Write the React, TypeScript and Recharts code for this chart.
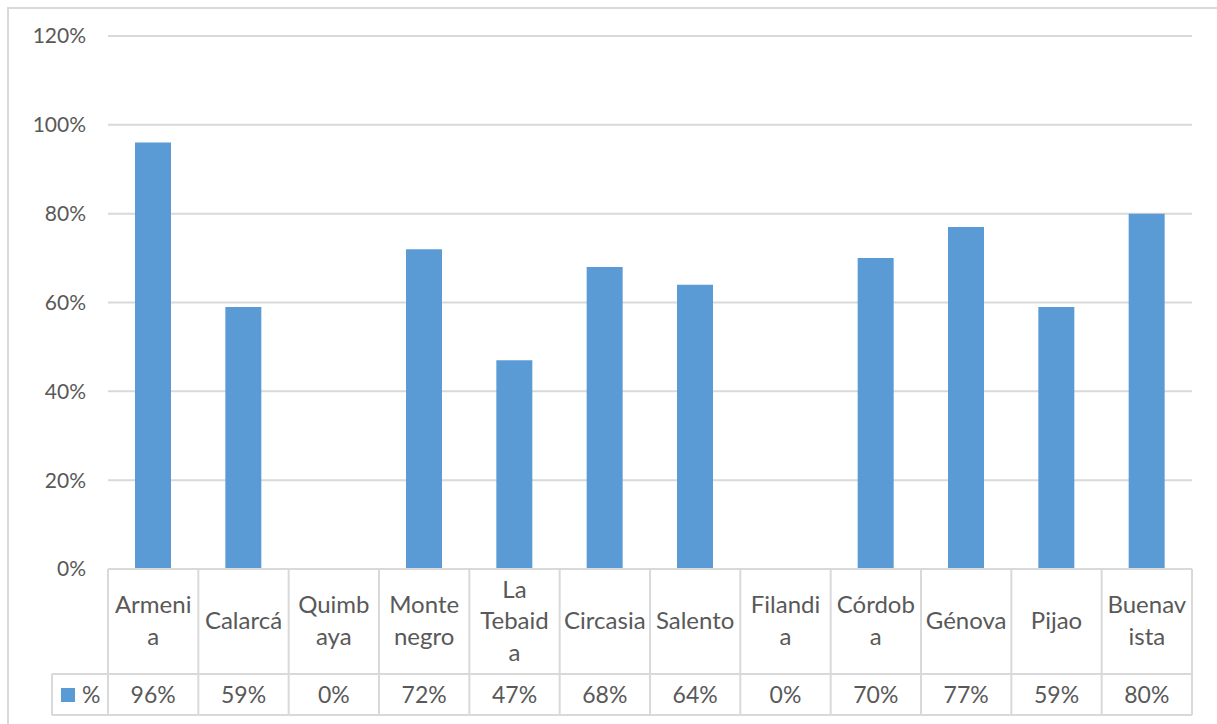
import React from 'react';
import { BarChart, Bar, XAxis, YAxis, CartesianGrid } from 'recharts';

const categories = ['Armenia', 'Calarcá', 'Quimbaya', 'Montenegro', 'La Tebaida', 'Circasia', 'Salento', 'Filandia', 'Córdoba', 'Génova', 'Pijao', 'Buenavista'];
const labelLines = [['Armeni', 'a'], ['Calarcá'], ['Quimb', 'aya'], ['Monte', 'negro'], ['La', 'Tebaid', 'a'], ['Circasia'], ['Salento'], ['Filandi', 'a'], ['Córdob', 'a'], ['Génova'], ['Pijao'], ['Buenav', 'ista']];
const percents = [96, 59, 0, 72, 47, 68, 64, 0, 70, 77, 59, 80];
const yTicks = [0, 20, 40, 60, 80, 100, 120];
const seriesName = '%';

const data = categories.map((c, i) => ({ name: c, value: percents[i] }));

const W = 1217;
const H = 724;
const LEFT = 108;
const RIGHT = 25;
const PLOT_W = W - LEFT - RIGHT;
const BAND = PLOT_W / categories.length;
const GRID = '#d9d9d9';
const TEXT = '#595959';
const BLUE = '#5b9bd5';
const FONT = 'Lato, "Open Sans", sans-serif';

const TableTick = (props: any) => {
  const { x, y, payload } = props;
  const i = payload.index;
  const left = x - BAND / 2;
  const right = x + BAND / 2;
  const mid = y + 105;
  const bottom = y + 146;
  const lines = labelLines[i];
  return (
    <g>
      {i === 0 && <line x1={left} y1={y} x2={left} y2={bottom} stroke={GRID} strokeWidth={2} />}
      <line x1={right} y1={y} x2={right} y2={bottom} stroke={GRID} strokeWidth={2} />
      <line x1={left} y1={mid} x2={right} y2={mid} stroke={GRID} strokeWidth={2} />
      <line x1={left} y1={bottom} x2={right} y2={bottom} stroke={GRID} strokeWidth={2} />
      {lines.map((t, k) => (
        <text key={k} x={x} y={y + 60 + (k - (lines.length - 1) / 2) * 31.5} textAnchor="middle" fill={TEXT} fontSize={24} fontFamily={FONT}>
          {t}
        </text>
      ))}
      <text x={x} y={y + 134} textAnchor="middle" fill={TEXT} fontSize={23} fontFamily={FONT}>
        {percents[i]}%
      </text>
      {i === 0 && (
        <g>
          <line x1={52} y1={mid} x2={left} y2={mid} stroke={GRID} strokeWidth={2} />
          <line x1={52} y1={bottom} x2={left} y2={bottom} stroke={GRID} strokeWidth={2} />
          <line x1={52} y1={mid} x2={52} y2={bottom} stroke={GRID} strokeWidth={2} />
          <rect x={61} y={y + 119} width={14} height={14} fill={BLUE} />
          <text x={82} y={y + 134} fill={TEXT} fontSize={23} fontFamily={FONT}>{seriesName}</text>
        </g>
      )}
    </g>
  );
};

export default function App() {
  return (
    <div style={{ position: 'absolute', left: 0, top: 0, width: W, height: H, background: '#fff', overflow: 'hidden' }}>
      <div style={{ position: 'absolute', left: 7, top: 7, width: W, height: H, borderLeft: `2px solid ${GRID}`, borderTop: `2px solid ${GRID}` }} />
      <div style={{ position: 'absolute', left: 0, top: 0 }}>
        <BarChart width={W} height={H} data={data} margin={{ top: 36, right: RIGHT, left: 0, bottom: 0 }}>
          <CartesianGrid vertical={false} stroke={GRID} strokeWidth={2} />
          <YAxis
            width={LEFT}
            domain={[0, 120]}
            ticks={yTicks}
            tickFormatter={(v: number) => `${v}%`}
            axisLine={false}
            tickLine={false}
            tickSize={22}
            tickMargin={0}
            tick={{ fill: TEXT, fontSize: 21, fontFamily: FONT }}
          />
          <XAxis
            dataKey="name"
            height={H - 569}
            axisLine={{ stroke: GRID, strokeWidth: 2 }}
            tickLine={false}
            tickSize={0}
            tickMargin={0}
            interval={0}
            tick={<TableTick />}
          />
          <Bar dataKey="value" name={seriesName} fill={BLUE} barSize={36} isAnimationActive={false} />
        </BarChart>
      </div>
    </div>
  );
}
